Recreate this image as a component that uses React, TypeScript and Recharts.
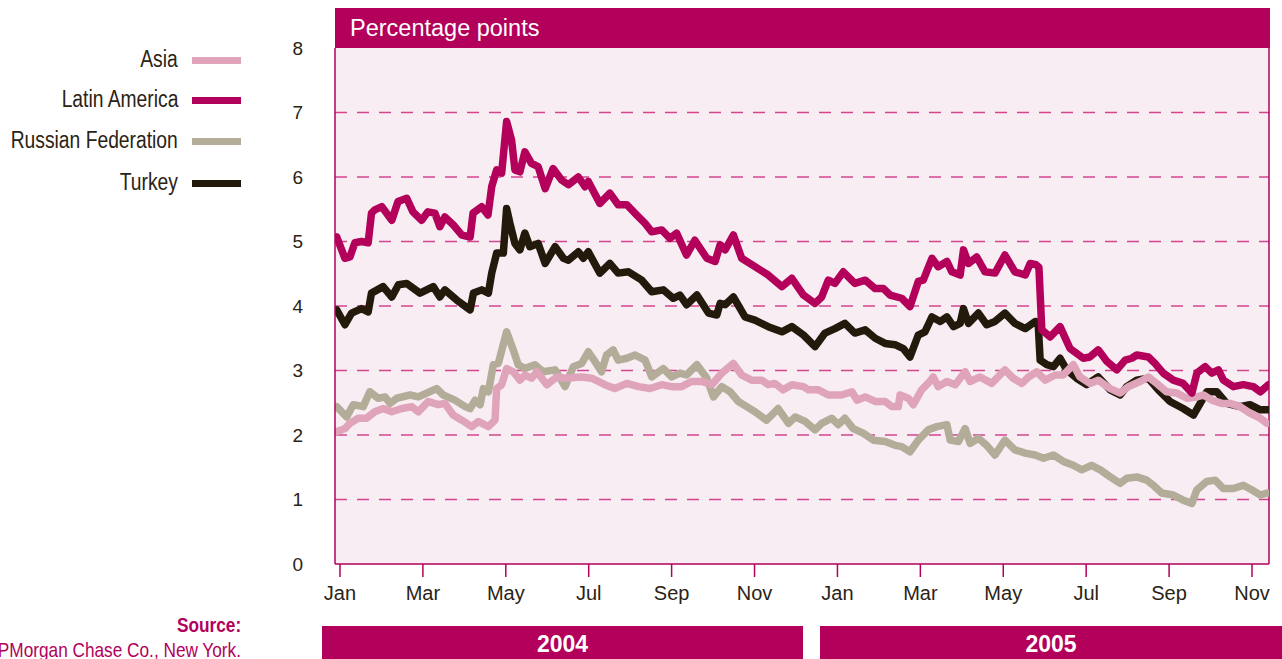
import { CartesianGrid, Line, LineChart, ReferenceLine, XAxis, YAxis } from 'recharts'

const magenta = '#b2005b'
const ink = '#2a2316'
const sans = "'Liberation Sans', Arial, sans-serif"

// x = months since 1 Jan 2004
const monthTicks = [0, 2, 4, 6, 8, 10, 12, 14, 16, 18, 20, 22]
const monthLabels = ['Jan', 'Mar', 'May', 'Jul', 'Sep', 'Nov', 'Jan', 'Mar', 'May', 'Jul', 'Sep', 'Nov']
const yTicks = [0, 1, 2, 3, 4, 5, 6, 7, 8]
const gridValues = [1, 2, 3, 4, 5, 6, 7]
const xMin = -0.12
const xMax = 22.41

// [month, percentage points]
const latinAmerica = [
  [-0.08, 5.07], [0.12, 4.74], [0.24, 4.76], [0.36, 4.98], [0.52, 5.0], [0.68, 4.98], [0.76, 5.44],
  [0.84, 5.49], [1.01, 5.54], [1.25, 5.33], [1.4, 5.62], [1.61, 5.67], [1.76, 5.46], [1.97, 5.33],
  [2.12, 5.46], [2.29, 5.44], [2.41, 5.23], [2.53, 5.38], [2.73, 5.26], [2.94, 5.1], [3.14, 5.07],
  [3.21, 5.44], [3.42, 5.54], [3.57, 5.41], [3.66, 5.85], [3.78, 6.11], [3.9, 6.06], [4.02, 6.86],
  [4.14, 6.57], [4.22, 6.11], [4.34, 6.08], [4.46, 6.39], [4.62, 6.21], [4.78, 6.16], [4.95, 5.82],
  [5.14, 6.13], [5.35, 5.95], [5.51, 5.88], [5.75, 6.0], [5.91, 5.85], [5.99, 5.93], [6.27, 5.59],
  [6.51, 5.75], [6.71, 5.57], [6.92, 5.57], [7.16, 5.41], [7.36, 5.28], [7.52, 5.15], [7.76, 5.18],
  [7.96, 5.05], [8.12, 5.13], [8.36, 4.79], [8.56, 5.02], [8.85, 4.74], [9.05, 4.69], [9.17, 4.95],
  [9.29, 4.87], [9.49, 5.1], [9.69, 4.74], [10.01, 4.61], [10.33, 4.48], [10.66, 4.3], [10.9, 4.43],
  [11.18, 4.17], [11.46, 4.04], [11.62, 4.14], [11.78, 4.4], [11.94, 4.35], [12.14, 4.53], [12.42, 4.35],
  [12.67, 4.4], [12.91, 4.27], [13.11, 4.27], [13.27, 4.17], [13.55, 4.12], [13.75, 3.99], [13.95, 4.38],
  [14.07, 4.4], [14.28, 4.74], [14.43, 4.61], [14.64, 4.69], [14.76, 4.53], [14.96, 4.48], [15.04, 4.87],
  [15.16, 4.66], [15.36, 4.76], [15.56, 4.53], [15.8, 4.51], [16.04, 4.79], [16.28, 4.53], [16.53, 4.48],
  [16.65, 4.66], [16.79, 4.64], [16.86, 4.6], [16.93, 3.63], [17.13, 3.52], [17.37, 3.68], [17.61, 3.34],
  [17.93, 3.19], [18.09, 3.21], [18.29, 3.32], [18.5, 3.14], [18.74, 3.01], [18.94, 3.16], [19.1, 3.19],
  [19.22, 3.24], [19.5, 3.21], [19.66, 3.11], [19.86, 2.96], [20.1, 2.85], [20.34, 2.8], [20.55, 2.65],
  [20.67, 2.96], [20.87, 3.06], [21.03, 2.96], [21.19, 3.01], [21.31, 2.85], [21.55, 2.75], [21.79, 2.78],
  [22.03, 2.75], [22.2, 2.67], [22.4, 2.78],
]

const turkey = [
  [-0.08, 3.94], [0.12, 3.71], [0.28, 3.89], [0.52, 3.96], [0.68, 3.91], [0.76, 4.2], [1.04, 4.3],
  [1.25, 4.14], [1.41, 4.33], [1.61, 4.35], [1.93, 4.2], [2.25, 4.3], [2.41, 4.14], [2.53, 4.25],
  [2.82, 4.09], [3.14, 3.94], [3.22, 4.2], [3.42, 4.25], [3.58, 4.2], [3.66, 4.51], [3.78, 4.82],
  [3.94, 4.82], [4.02, 5.51], [4.1, 5.28], [4.22, 4.97], [4.34, 4.87], [4.46, 5.13], [4.58, 4.92],
  [4.78, 4.97], [4.95, 4.66], [5.19, 4.92], [5.39, 4.74], [5.51, 4.71], [5.75, 4.84], [5.87, 4.74],
  [5.99, 4.84], [6.27, 4.51], [6.51, 4.66], [6.71, 4.51], [6.96, 4.53], [7.28, 4.4], [7.52, 4.22],
  [7.8, 4.25], [8.04, 4.12], [8.2, 4.17], [8.36, 4.02], [8.61, 4.17], [8.89, 3.89], [9.09, 3.86],
  [9.17, 4.04], [9.29, 4.02], [9.49, 4.14], [9.77, 3.83], [10.01, 3.78], [10.33, 3.68], [10.66, 3.6],
  [10.9, 3.68], [11.18, 3.55], [11.46, 3.37], [11.7, 3.58], [11.94, 3.65], [12.18, 3.73], [12.42, 3.58],
  [12.67, 3.63], [12.91, 3.5], [13.15, 3.42], [13.39, 3.4], [13.59, 3.34], [13.75, 3.21], [13.95, 3.55],
  [14.11, 3.6], [14.28, 3.83], [14.48, 3.76], [14.64, 3.83], [14.8, 3.68], [14.96, 3.73], [15.04, 3.96],
  [15.16, 3.73], [15.4, 3.89], [15.6, 3.71], [15.8, 3.76], [16.04, 3.89], [16.28, 3.73], [16.53, 3.65],
  [16.77, 3.76], [16.84, 3.75], [16.89, 3.16], [17.05, 3.09], [17.21, 3.06], [17.37, 3.19], [17.53, 3.01],
  [17.77, 2.88], [18.01, 2.78], [18.29, 2.9], [18.58, 2.7], [18.82, 2.62], [18.98, 2.75], [19.22, 2.85],
  [19.5, 2.88], [19.74, 2.7], [20.02, 2.52], [20.34, 2.41], [20.59, 2.31], [20.75, 2.49], [20.91, 2.67],
  [21.15, 2.67], [21.39, 2.49], [21.71, 2.44], [21.95, 2.47], [22.2, 2.39], [22.4, 2.39],
]

const asia = [
  [-0.08, 2.05], [0.12, 2.1], [0.24, 2.18], [0.44, 2.26], [0.64, 2.26], [0.84, 2.36], [1.04, 2.41],
  [1.25, 2.36], [1.49, 2.41], [1.73, 2.44], [1.89, 2.36], [2.13, 2.52], [2.37, 2.47], [2.53, 2.49],
  [2.73, 2.31], [2.94, 2.23], [3.18, 2.13], [3.34, 2.21], [3.58, 2.13], [3.74, 2.23], [3.78, 2.72],
  [3.9, 2.78], [4.02, 3.03], [4.18, 2.98], [4.34, 2.85], [4.46, 2.93], [4.62, 2.88], [4.75, 2.98],
  [4.99, 2.78], [5.23, 2.9], [5.43, 2.88], [5.83, 2.9], [6.07, 2.88], [6.39, 2.78], [6.63, 2.72],
  [6.92, 2.8], [7.2, 2.75], [7.48, 2.72], [7.76, 2.78], [8.0, 2.75], [8.24, 2.75], [8.48, 2.83],
  [8.73, 2.83], [8.97, 2.78], [9.21, 2.96], [9.49, 3.11], [9.69, 2.93], [9.93, 2.85], [10.17, 2.85],
  [10.33, 2.78], [10.49, 2.8], [10.69, 2.7], [10.9, 2.78], [11.18, 2.75], [11.3, 2.7], [11.54, 2.7],
  [11.78, 2.62], [12.1, 2.62], [12.35, 2.67], [12.47, 2.54], [12.67, 2.59], [12.91, 2.52], [13.15, 2.52],
  [13.31, 2.44], [13.47, 2.44], [13.51, 2.62], [13.71, 2.57], [13.83, 2.47], [14.03, 2.7], [14.23, 2.83],
  [14.31, 2.9], [14.43, 2.75], [14.64, 2.83], [14.84, 2.78], [15.08, 2.98], [15.2, 2.83], [15.44, 2.9],
  [15.72, 2.8], [16.04, 3.01], [16.24, 2.88], [16.45, 2.8], [16.61, 2.9], [16.81, 2.98], [17.01, 2.85],
  [17.25, 2.93], [17.45, 2.93], [17.69, 3.09], [17.85, 2.9], [18.09, 2.8], [18.29, 2.85], [18.58, 2.72],
  [18.82, 2.65], [19.02, 2.75], [19.3, 2.83], [19.5, 2.9], [19.7, 2.8], [19.94, 2.67], [20.19, 2.65],
  [20.43, 2.57], [20.67, 2.59], [20.83, 2.62], [21.03, 2.54], [21.27, 2.49], [21.47, 2.49], [21.71, 2.44],
  [21.95, 2.34], [22.2, 2.26], [22.36, 2.18],
]

const russia = [
  [-0.08, 2.44], [0.16, 2.28], [0.32, 2.47], [0.56, 2.44], [0.72, 2.67], [0.92, 2.57], [1.09, 2.59],
  [1.21, 2.49], [1.37, 2.57], [1.69, 2.62], [1.89, 2.59], [2.09, 2.65], [2.33, 2.72], [2.49, 2.62],
  [2.77, 2.54], [3.02, 2.44], [3.14, 2.41], [3.26, 2.54], [3.38, 2.47], [3.46, 2.72], [3.58, 2.67],
  [3.7, 3.09], [3.82, 3.11], [4.02, 3.6], [4.18, 3.32], [4.3, 3.09], [4.46, 3.03], [4.7, 3.09],
  [4.9, 2.98], [5.19, 3.01], [5.43, 2.75], [5.63, 3.06], [5.83, 3.11], [5.99, 3.29], [6.15, 3.14],
  [6.31, 2.98], [6.43, 3.24], [6.59, 3.32], [6.71, 3.16], [6.92, 3.19], [7.12, 3.24], [7.36, 3.16],
  [7.52, 2.9], [7.8, 3.03], [8.0, 2.9], [8.2, 2.96], [8.36, 2.93], [8.61, 3.09], [8.85, 2.88],
  [9.01, 2.59], [9.21, 2.75], [9.41, 2.67], [9.61, 2.52], [9.81, 2.44], [10.01, 2.36], [10.29, 2.23],
  [10.57, 2.41], [10.82, 2.18], [10.98, 2.28], [11.22, 2.21], [11.46, 2.08], [11.62, 2.18], [11.86, 2.26],
  [12.02, 2.16], [12.18, 2.26], [12.38, 2.1], [12.62, 2.03], [12.87, 1.92], [13.15, 1.9], [13.39, 1.84],
  [13.55, 1.82], [13.75, 1.74], [13.95, 1.92], [14.19, 2.08], [14.4, 2.13], [14.64, 2.16], [14.72, 1.92],
  [14.92, 1.9], [15.08, 2.1], [15.2, 1.87], [15.4, 1.95], [15.6, 1.84], [15.8, 1.69], [16.04, 1.92],
  [16.28, 1.77], [16.53, 1.72], [16.77, 1.69], [16.97, 1.64], [17.21, 1.69], [17.45, 1.59], [17.69, 1.53],
  [17.89, 1.46], [18.13, 1.53], [18.34, 1.46], [18.58, 1.35], [18.82, 1.25], [18.98, 1.33], [19.22, 1.35],
  [19.46, 1.3], [19.62, 1.22], [19.82, 1.1], [20.1, 1.07], [20.34, 0.99], [20.55, 0.94], [20.67, 1.15],
  [20.91, 1.28], [21.11, 1.3], [21.31, 1.17], [21.55, 1.17], [21.79, 1.22], [21.99, 1.15], [22.2, 1.07],
  [22.36, 1.1],
]

const series = [
  { name: 'Russian Federation', color: '#b3ac99', points: russia },
  { name: 'Turkey', color: '#241a0b', points: turkey },
  { name: 'Asia', color: '#dfa4b9', points: asia },
  { name: 'Latin America', color: magenta, points: latinAmerica },
]

const legendItems = [
  { name: 'Asia', color: '#dfa4b9', top: 60 },
  { name: 'Latin America', color: magenta, top: 100 },
  { name: 'Russian Federation', color: '#b3ac99', top: 141 },
  { name: 'Turkey', color: '#241a0b', top: 183 },
]

const toRows = (pts: number[][]) => pts.map(([t, v]) => ({ t, v }))

// no narrow face installed, so squeeze Liberation Sans from its right edge
function NarrowText({
  children,
  right,
  top,
  size,
  color,
  bold = false,
}: {
  children: string
  right: number
  top: number
  size: number
  color: string
  bold?: boolean
}) {
  return (
    <div
      style={{
        position: 'absolute',
        right: 1282 - right,
        top,
        fontFamily: sans,
        fontSize: size,
        fontWeight: bold ? 'bold' : 'normal',
        lineHeight: '28px',
        color,
        whiteSpace: 'nowrap',
        transform: 'scaleX(0.82)',
        transformOrigin: 'right center',
      }}
    >
      {children}
    </div>
  )
}

export default function App() {
  return (
    <div style={{ position: 'relative', width: 1282, height: 659, overflow: 'hidden', background: '#fff' }}>
      <style>{'body{margin:0}'}</style>

      {legendItems.map((item) => (
        <div key={item.name}>
          <NarrowText right={178} top={item.top - 15} size={23.5} color={ink}>
            {item.name}
          </NarrowText>
          <div
            style={{
              position: 'absolute',
              left: 192,
              top: item.top - 3,
              width: 49,
              height: 7,
              background: item.color,
            }}
          />
        </div>
      ))}

      <div
        style={{
          position: 'absolute',
          left: 335,
          top: 8,
          width: 935,
          height: 40,
          background: magenta,
          color: '#fff',
          fontFamily: sans,
          fontSize: 23.5,
          lineHeight: '40px',
          paddingLeft: 15,
          boxSizing: 'border-box',
        }}
      >
        Percentage points
      </div>

      <div style={{ position: 'absolute', left: 0, top: 0 }}>
        <LineChart width={1282} height={659} margin={{ top: 48, right: 13, bottom: 55, left: 275 }}>
          <CartesianGrid horizontal={false} vertical={false} fill="#f8edf2" />
          {gridValues.map((g) => (
            <ReferenceLine key={g} y={g} stroke="#d2468e" strokeWidth={1.5} strokeDasharray="12 10" />
          ))}
          <ReferenceLine x={xMax} stroke={magenta} strokeWidth={1.5} />
          <XAxis
            dataKey="t"
            type="number"
            domain={[xMin, xMax]}
            allowDataOverflow
            ticks={monthTicks}
            tickFormatter={(v: number) => monthLabels[monthTicks.indexOf(v)] ?? ''}
            height={40}
            tickSize={13}
            tickMargin={9}
            stroke={magenta}
            strokeWidth={1.5}
            tick={{ fill: ink, fontSize: 20, fontFamily: sans }}
          />
          <YAxis
            type="number"
            domain={[0, 8]}
            ticks={yTicks}
            width={60}
            tickLine={false}
            tickMargin={26}
            stroke={magenta}
            strokeWidth={1.5}
            tick={{ fill: ink, fontSize: 19, fontFamily: sans }}
          />
          {series.map((s) => (
            <Line
              key={s.name}
              data={toRows(s.points)}
              dataKey="v"
              name={s.name}
              stroke={s.color}
              strokeWidth={7.5}
              strokeLinejoin="round"
              strokeLinecap="round"
              dot={false}
              isAnimationActive={false}
            />
          ))}
        </LineChart>
      </div>

      <NarrowText right={241} top={611} size={21} color={magenta} bold>
        Source:
      </NarrowText>
      <NarrowText right={241} top={636} size={21} color={magenta}>
        JPMorgan Chase Co., New York.
      </NarrowText>

      {[
        { year: '2004', left: 322, width: 481 },
        { year: '2005', left: 820, width: 462 },
      ].map((b) => (
        <div
          key={b.year}
          style={{
            position: 'absolute',
            left: b.left,
            top: 626,
            width: b.width,
            height: 33,
            background: magenta,
            color: '#fff',
            fontFamily: sans,
            fontWeight: 'bold',
            fontSize: 23,
            lineHeight: '36px',
            textAlign: 'center',
          }}
        >
          {b.year}
        </div>
      ))}
    </div>
  )
}
